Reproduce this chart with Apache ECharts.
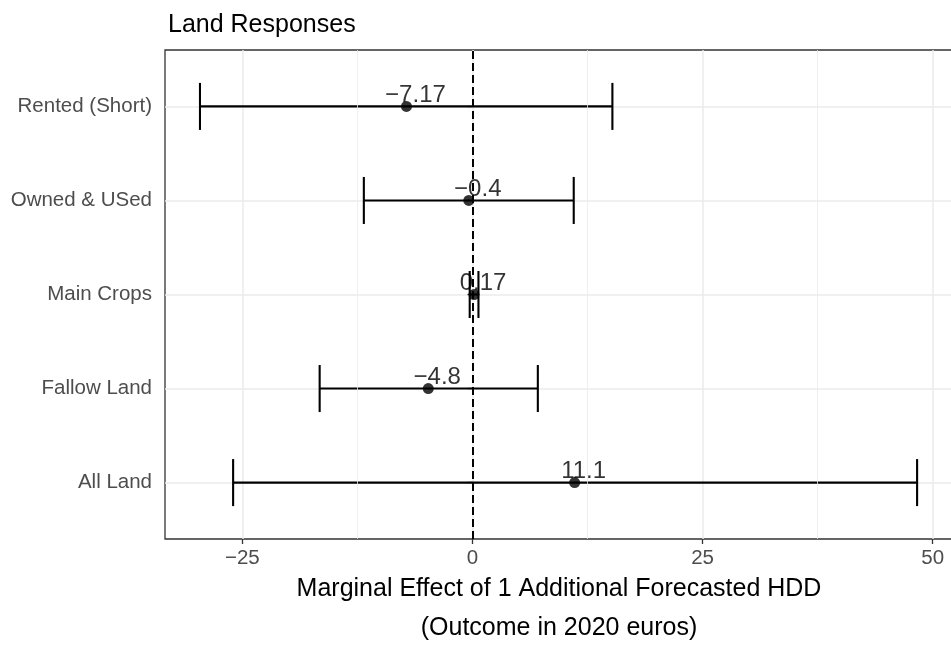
<!DOCTYPE html>
<html>
<head>
<meta charset="utf-8">
<script src="https://cdn.jsdelivr.net/npm/echarts@6/dist/echarts.min.js"></script>
<style>
  html, body { margin: 0; padding: 0; background: #fff; }
  #chart { width: 951px; height: 646px; }
</style>
</head>
<body>
<div id="chart"></div>
<script>
// categories, bottom to top (ggplot puts first level at the bottom)
const categories = ["All Land", "Fallow Land", "Main Crops", "Owned & USed", "Rented (Short)"];
const estimates = [11.1, -4.8, 0.17, -0.4, -7.17];
const ciLow = [-26.0, -16.6, -0.3, -11.8, -29.6];
const ciHigh = [48.3, 7.1, 0.65, 11.0, 15.2];
const xTicks = [-25, 0, 25, 50];
const xMinorGrid = [-12.5, 12.5, 37.5];

const yPos = categories.map((c, i) => i + 1);
const fmt = (v) => String(v).replace("-", "\u2212");

const chart = echarts.init(document.getElementById("chart"), null, { renderer: "canvas" });

const font = "Liberation Sans, Arial, Helvetica, sans-serif";

const option = {
  animation: false,
  textStyle: { fontFamily: font },
  title: {
    text: "Land Responses",
    left: 163,
    top: 8,
    textStyle: { fontSize: 25, fontWeight: "normal", color: "#000", fontFamily: font },
  },
  grid: {
    left: 165,
    top: 50,
    right: -2,
    bottom: 107,
    outerBoundsMode: "none",
    containLabel: false,
    show: true,
    borderColor: "#333333",
    borderWidth: 1.3,
    backgroundColor: "#fff",
  },
  xAxis: {
    type: "value",
    min: -33.4,
    max: 52.2,
    name: "Marginal Effect of 1 Additional Forecasted HDD\n(Outcome in 2020 euros)",
    nameLocation: "middle",
    nameGap: 31,
    nameMoveOverlap: false,
    nameTextStyle: { fontSize: 25, color: "#000", lineHeight: 39, fontFamily: font, verticalAlign: "top" },
    axisLine: { show: false },
    axisTick: { show: true, length: 5, customValues: xTicks, lineStyle: { color: "#333", width: 1.3 } },
    axisLabel: {
      customValues: xTicks,
      margin: 9,
      fontSize: 20.5,
      color: "#4D4D4D",
      formatter: (v) => fmt(v),
    },
    splitLine: { show: true, lineStyle: { color: "#EBEBEB", width: 1.5 } },
  },
  yAxis: {
    type: "value",
    min: 0.4,
    max: 5.6,
    axisLine: { show: false },
    axisTick: { show: true, length: 5, customValues: yPos, lineStyle: { color: "#333", width: 1.3 } },
    axisLabel: {
      customValues: yPos,
      margin: 13,
      fontSize: 20.5,
      color: "#4D4D4D",
      formatter: (v) => categories[Math.round(v) - 1] || "",
    },
    splitLine: { show: true, lineStyle: { color: "#EBEBEB", width: 1.5 } },
  },
  series: [
    {
      // minor grid + zero reference line
      type: "line",
      data: [],
      silent: true,
      markLine: {
        silent: true,
        symbol: "none",
        animation: false,
        label: { show: false },
        data: xMinorGrid.map((v) => ({ xAxis: v, lineStyle: { color: "#EBEBEB", width: 0.8, type: "solid" } }))
          .concat([{ xAxis: 0, lineStyle: { color: "#000", width: 2, type: [8, 4] } }]),
      },
    },
    {
      // error bars
      type: "custom",
      silent: true,
      data: yPos.map((y, i) => [y, ciLow[i], ciHigh[i]]),
      renderItem: (params, api) => {
        const y = api.value(0);
        const p1 = api.coord([api.value(1), y]);
        const p2 = api.coord([api.value(2), y]);
        const half = api.size([0, 0.25])[1];
        const style = { stroke: "#000", lineWidth: 2.1 };
        return {
          type: "group",
          children: [
            { type: "line", shape: { x1: p1[0], y1: p1[1], x2: p2[0], y2: p2[1] }, style },
            { type: "line", shape: { x1: p1[0], y1: p1[1] - half, x2: p1[0], y2: p1[1] + half }, style },
            { type: "line", shape: { x1: p2[0], y1: p2[1] - half, x2: p2[0], y2: p2[1] + half }, style },
          ],
        };
      },
    },
    {
      // point estimates
      type: "scatter",
      symbol: "circle",
      symbolSize: 11,
      itemStyle: { color: "#000" },
      data: yPos.map((y, i) => [estimates[i], y]),
      label: {
        show: true,
        position: "top",
        distance: 0,
        offset: [9, 6],
        fontSize: 24,
        color: "#000",
        fontFamily: font,
        formatter: (p) => fmt(estimates[p.dataIndex]),
      },
    },
  ],
};

chart.setOption(option);
</script>
</body>
</html>
